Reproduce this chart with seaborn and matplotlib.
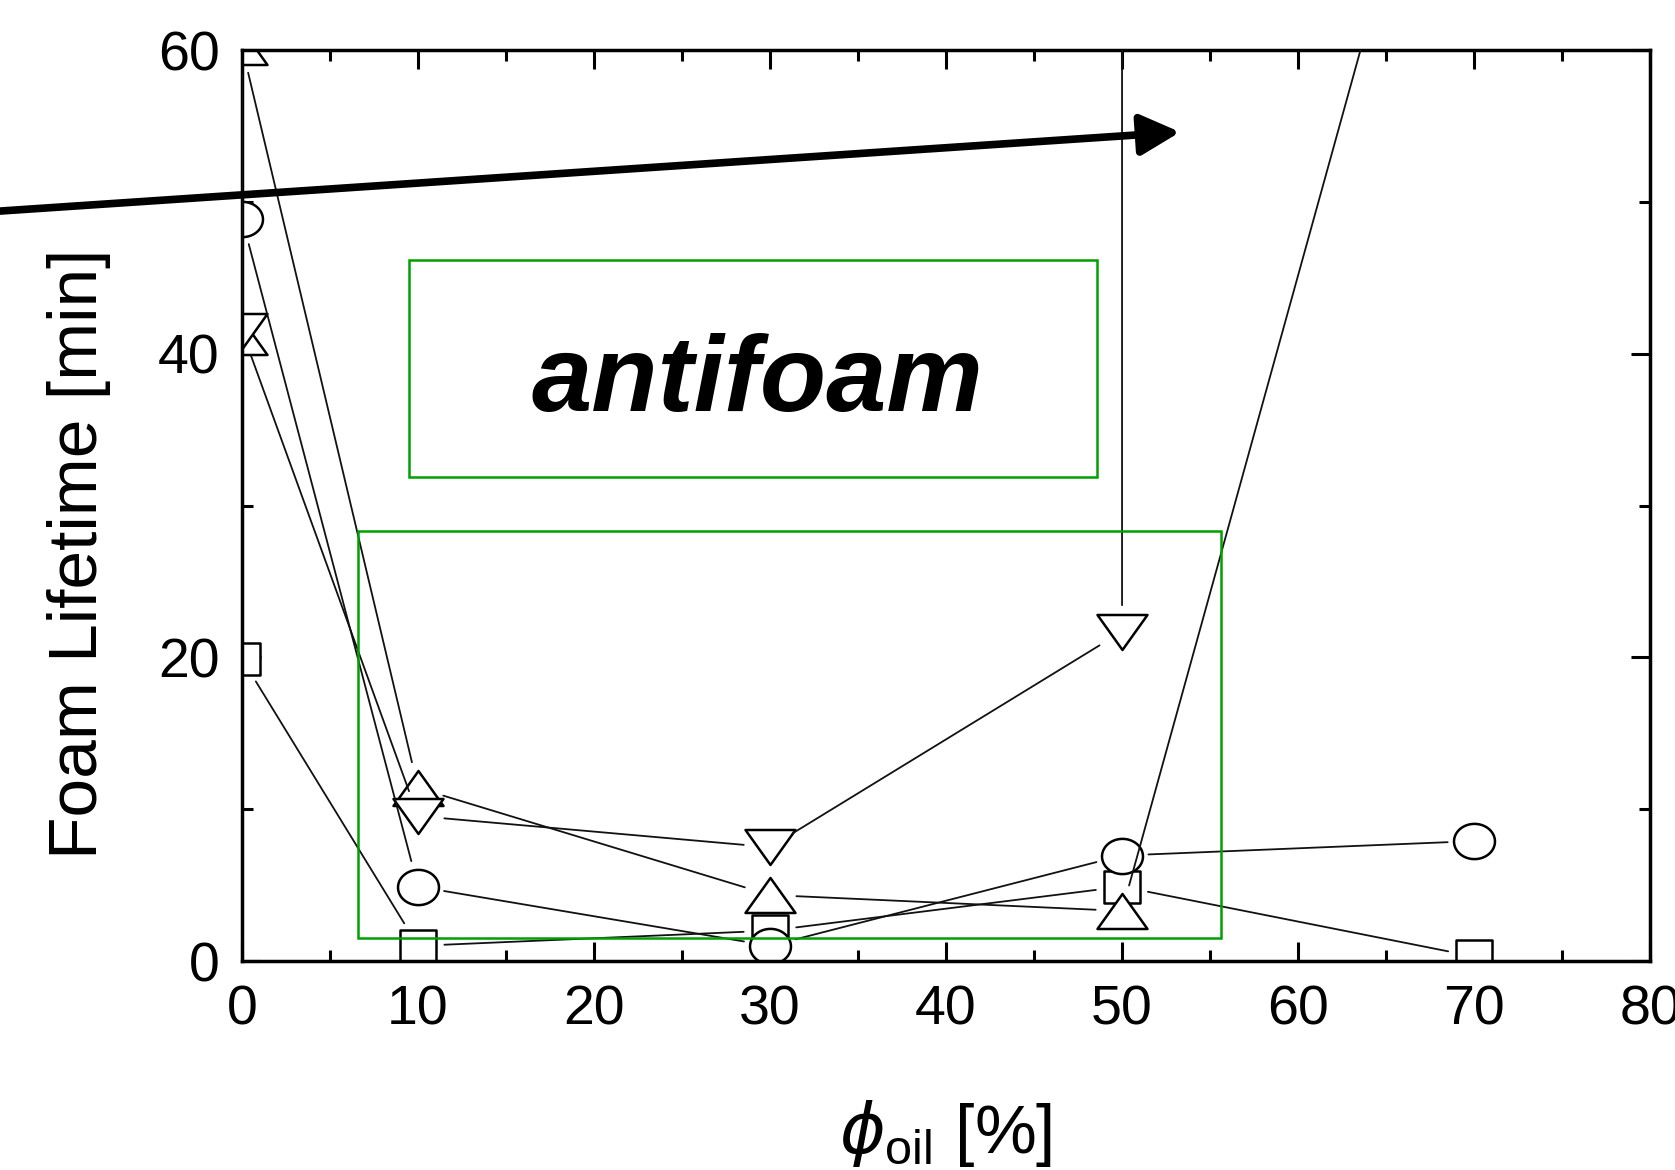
import numpy as np
import matplotlib
matplotlib.use('Agg')
import matplotlib.pyplot as plt
import seaborn as sns
from matplotlib.path import Path
from matplotlib.patches import Rectangle

# oil volume fraction [%] vs foam lifetime [min], one pair of lists per series
sq_x = [0, 10, 30, 50, 70]
sq_y = [19.9, 1.0, 2.0, 4.9, 0.3]

ci_x = [0, 10, 30, 50, 70]
ci_y = [48.9, 4.9, 1.0, 6.95, 7.9]

up_x = [0, 0, 10, 30, 50, 70]
up_y = [41.1, 60.2, 11.4, 4.35, 3.3, 87.0]   # last one is off the top

dn_x = [0, 10, 30, 50, 50]
dn_y = [41.5, 9.55, 7.5, 21.7, 95.0]         # vertical run to beyond 60 at 50 %

# annotation boxes (x0, y0, width, height) in data units
box_text = (9.5, 31.9, 39.1, 14.3)
box_low = (6.6, 1.55, 49.0, 26.8)
label_pos = (29.3, 36.2)
arrow_tail = (-15.0, 49.3)
arrow_head = (53.3, 54.6)

sns.set_style('ticks')
plt.rcParams['font.family'] = ['Liberation Sans', 'DejaVu Sans']
plt.rcParams['mathtext.fontset'] = 'custom'
plt.rcParams['mathtext.rm'] = 'Liberation Sans'
plt.rcParams['mathtext.it'] = 'DejaVu Sans:italic'
for k in ('text.color', 'axes.labelcolor', 'xtick.color', 'ytick.color',
          'axes.edgecolor'):
    plt.rcParams[k] = 'black'


def ellipse(w, h):
    t = np.linspace(0, 2 * np.pi, 73)
    return Path(np.column_stack([w * np.cos(t), h * np.sin(t)]), closed=True)


def poly(pts):
    pts = list(pts) + [pts[0]]
    return Path(pts, closed=True)


m_circle = ellipse(1.0, 0.86)
m_square = poly([(-1, -0.86), (1, -0.86), (1, 0.86), (-1, 0.86)])
m_up = poly([(0, 0.70), (-1, -0.70), (1, -0.70)])
m_dn = poly([(0, -0.70), (-1, 0.70), (1, 0.70)])

fig = plt.figure(figsize=(16.75, 11.7), dpi=100)
ax = fig.add_axes([0.1445, 0.1786, 0.8406, 0.7786])


def connect(xs, ys, gap=19):
    # segments stop short of the symbols, like the original plot
    for i in range(len(xs) - 1):
        a = ax.annotate('', xy=(xs[i + 1], ys[i + 1]), xytext=(xs[i], ys[i]),
                        xycoords='data', textcoords='data', annotation_clip=False,
                        arrowprops=dict(arrowstyle='-', lw=1.3, color='#111111',
                                        shrinkA=gap, shrinkB=gap))
        a.arrow_patch.set_clip_path(ax.patch)
        a.set_zorder(3)


series = [
    (sq_x, sq_y, m_square, 26.5),
    (up_x, up_y, m_up, 36),
    (dn_x, dn_y, m_dn, 36),
    (ci_x, ci_y, m_circle, 29.5),
]
for xs, ys, mk, sz in series:
    sns.scatterplot(x=xs, y=ys, marker=mk, s=sz ** 2, color='white',
                    edgecolor='black', linewidth=1.8, ax=ax, zorder=2)
for xs, ys, mk, sz in series:
    connect(xs, ys)

for (x0, y0, w, h) in (box_text, box_low):
    ax.add_patch(Rectangle((x0, y0), w, h, fill=False, edgecolor='#00a000',
                           lw=1.8, zorder=4))

ax.text(label_pos[0], label_pos[1], 'antifoam', fontsize=78, fontweight='bold',
        fontstyle='italic', ha='center', va='baseline', zorder=5)

ax.annotate('', xy=arrow_head, xytext=arrow_tail, xycoords='data',
            textcoords='data', annotation_clip=False,
            arrowprops=dict(arrowstyle='-|>,head_length=1.2,head_width=0.62',
                            mutation_scale=20, lw=5.5, color='black',
                            shrinkA=0, shrinkB=0), zorder=6)

ax.set_xlim(0, 80)
ax.set_ylim(0, 60)
ax.set_xticks(range(0, 81, 10))
ax.set_xticks(range(5, 80, 10), minor=True)
ax.set_yticks([0, 20, 40, 60])
ax.set_yticks([10, 30, 50], minor=True)
ax.tick_params(which='both', direction='in', top=True, right=True, width=2.2,
               color='black', labelcolor='black')
ax.tick_params(which='major', length=14, labelsize=40)
ax.tick_params(axis='x', which='major', pad=17)
ax.tick_params(axis='y', which='major', pad=16)
ax.tick_params(which='minor', length=8)
for s in ax.spines.values():
    s.set_visible(True)
    s.set_linewidth(2.5)
    s.set_color('black')

ax.set_ylabel('Foam Lifetime [min]', fontsize=50, color='black')
ax.yaxis.label.set_va('center')
ax.yaxis.set_label_coords(-0.116, 0.447)
ax.set_xlabel(r'$\phi_{\mathrm{oil}}$ [%]', fontsize=50, color='black')
ax.xaxis.set_label_coords(0.50, -0.15)

fig.savefig('out.png', dpi=100)
